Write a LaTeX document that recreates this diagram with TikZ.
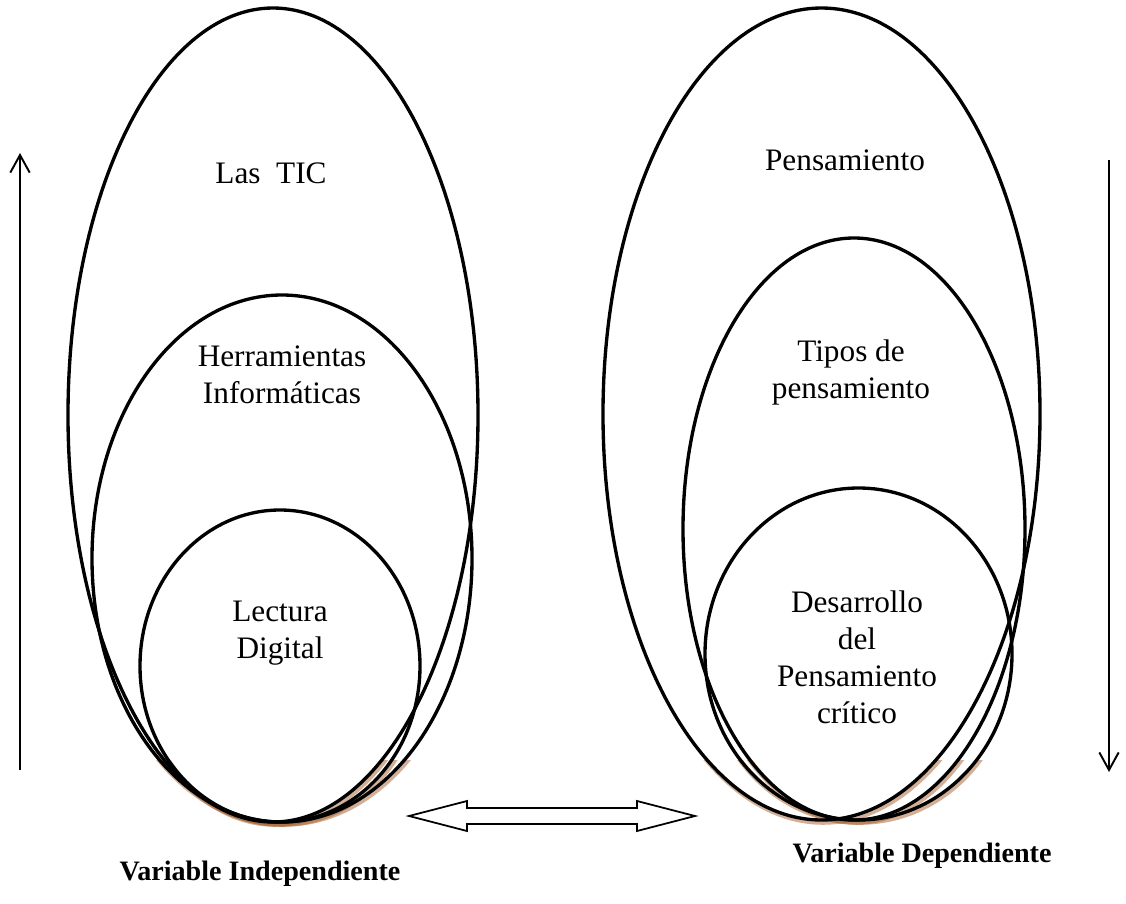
\documentclass[tikz,border=0pt]{standalone}
\usepackage{fontspec}
\setmainfont{Liberation Serif}
\usetikzlibrary{arrows.meta}
\definecolor{shadowbrown}{RGB}{165,95,45}
\tikzset{
  oval/.style={line width=1.9pt},
  ovalshadow/.style={line width=2.6pt, draw=shadowbrown, opacity=.5},
  txt/.style={anchor=base, font=\fontsize{17.8}{21}\selectfont},
  varlabel/.style={anchor=base, font=\fontsize{16}{19}\selectfont\bfseries},
  axis/.style={line width=1.1pt, -{Straight Barb[length=10pt,width=11pt]}},
}
\begin{document}
\begin{tikzpicture}[x=0.02cm,y=-0.02cm]
\useasboundingbox (0,0) rectangle (1126,903);
% brown shadow under the ovals
\begin{scope}
\clip (0,760) rectangle (1126,903);
\draw[ovalshadow] (274.5,417.5) ellipse (205 and 407);
\draw[ovalshadow] (283.5,561) ellipse (190 and 263.5);
\draw[ovalshadow] (281.5,668.5) ellipse (140 and 156);
\draw[ovalshadow] (823,416.5) ellipse (218.5 and 406);
\draw[ovalshadow] (855.5,531.5) ellipse (171 and 291);
\draw[ovalshadow] (860,656.5) ellipse (153.5 and 166);
\end{scope}
% independent variable
\draw[oval] (273,415) ellipse (205 and 407);
\draw[oval] (282,558.5) ellipse (190 and 263.5);
\draw[oval] (280,666) ellipse (140 and 156);
% dependent variable
\draw[oval] (821.5,414) ellipse (218.5 and 406);
\draw[oval] (854,529) ellipse (171 and 291);
\draw[oval] (858.5,654) ellipse (153.5 and 166);
\node[txt] (tic) at (271,183) {Las~~TIC};
\node[txt,align=center] (herr) at (282,403) {Herramientas\\Informáticas};
\node[txt,align=center] (lect) at (280,658) {Lectura\\Digital};
\node[txt] (pens) at (845,170) {Pensamiento};
\node[txt,align=center] (tipos) at (851,398) {Tipos de\\pensamiento};
\node[txt,align=center] (desa) at (857,723) {Desarrollo\\del\\Pensamiento\\crítico};
\node[varlabel] (vind) at (260,880) {Variable Independiente};
\node[varlabel] (vdep) at (922,862) {Variable Dependiente};
% side arrows
\coordinate (upA) at (20,770);
\coordinate (upB) at (20,153);
\coordinate (dnA) at (1109,160);
\coordinate (dnB) at (1109,772);
\draw[axis] (upA) -- (upB);
\draw[axis] (dnA) -- (dnB);
% double arrow between the two variables
\draw[line width=1pt,line join=miter] (409,816) -- (467,801) -- (467,808) -- (637,808)
  -- (637,801) -- (695,816) -- (637,831) -- (637,824) -- (467,824) -- (467,831) -- cycle;
\end{tikzpicture}
\end{document}
